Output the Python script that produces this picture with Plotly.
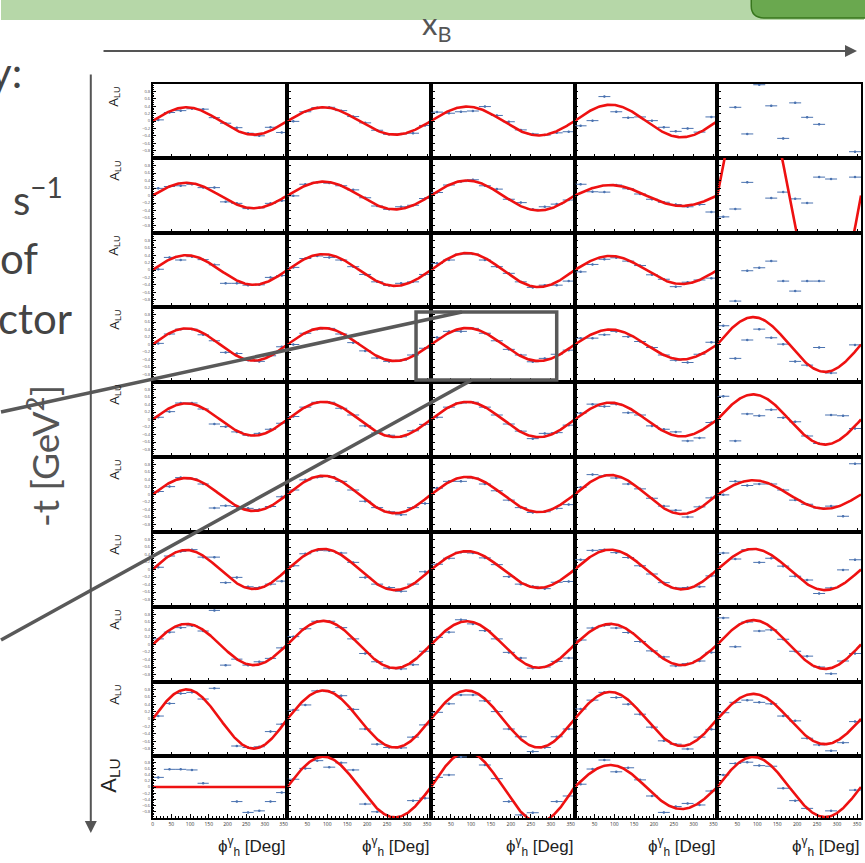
import numpy as np
import plotly.graph_objects as go

W, H = 865, 863

# ---------------- data ----------------
phi_bins = [15, 45, 75, 105, 135, 165, 195, 225, 255, 285, 315, 345]
phi_half_width = 15
N = None

# measured A_LU per -t bin (rows, top->bottom), 5 x_B bins each (columns)
alu_t1 = [[0.03, 0.23, 0.28, 0.33, 0.32, 0.09, -0.06, -0.18, -0.33, -0.40, -0.17, -0.31],
          [-0.01, 0.25, 0.36, 0.37, 0.28, 0.12, -0.05, -0.25, -0.36, -0.35, -0.33, -0.12],
          [0.24, 0.21, 0.25, 0.27, 0.39, 0.15, -0.02, -0.24, -0.35, -0.38, -0.32, -0.29],
          [-0.13, 0.01, 0.66, 0.25, 0.09, 0.11, 0.01, -0.17, -0.28, -0.20, -0.30, 0.11],
          [N, 0.37, -0.35, 0.98, 0.41, -0.47, 0.49, 0.10, -0.09, N, N, -0.83]]
alu_t2 = [[0.19, 0.24, 0.26, 0.30, 0.21, 0.21, -0.17, -0.21, -0.35, -0.33, -0.21, -0.14],
          [-0.01, 0.30, 0.35, 0.33, 0.26, 0.15, -0.06, -0.28, -0.37, -0.30, -0.26, -0.08],
          [0.08, 0.28, 0.37, 0.42, 0.26, 0.17, -0.10, -0.19, -0.37, -0.30, -0.23, -0.12],
          [0.30, 0.10, 0.09, 0.28, 0.18, 0.04, -0.10, -0.18, -0.24, -0.30, -0.24, -0.44],
          [-0.57, -0.36, 0.35, N, -0.07, 0.09, -0.09, -0.20, 0.49, 0.44, N, 0.49]]
alu_t3 = [[0.02, 0.34, 0.27, 0.36, 0.28, 0.14, -0.36, -0.36, -0.41, -0.40, -0.20, -0.15],
          [0.07, 0.31, 0.38, 0.34, 0.27, 0.09, -0.12, -0.32, -0.42, -0.36, -0.32, -0.12],
          [0.18, 0.27, 0.43, 0.43, 0.27, 0.09, -0.09, -0.32, -0.47, -0.41, -0.41, -0.30],
          [-0.05, 0.15, 0.29, 0.33, 0.24, 0.12, -0.13, -0.25, -0.45, -0.33, -0.27, -0.22],
          [N, -0.84, -0.02, 0.06, 0.24, -0.30, -0.57, -0.30, -0.30, N, N, N]]
alu_t4 = [[0.03, 0.28, 0.41, 0.41, 0.26, 0.10, -0.21, -0.24, -0.42, -0.45, -0.30, -0.06],
          [0.00, 0.30, 0.41, 0.43, 0.28, 0.05, -0.17, -0.36, -0.45, -0.42, -0.28, -0.10],
          [0.19, 0.35, 0.35, 0.43, 0.30, 0.10, -0.13, -0.28, -0.46, -0.37, -0.26, -0.15],
          [0.17, 0.17, 0.26, 0.35, 0.21, 0.08, -0.08, -0.28, -0.42, -0.48, -0.26, 0.06],
          [0.50, -0.37, 0.12, 0.41, 0.18, 0.01, -0.45, -0.55, -0.08, -0.76, N, -0.01]]
alu_t5 = [[0.06, 0.21, 0.44, 0.44, 0.28, -0.12, -0.19, -0.33, -0.42, -0.37, -0.26, -0.10],
          [0.08, 0.33, 0.46, 0.46, 0.30, 0.12, -0.17, -0.36, -0.42, -0.46, -0.30, -0.13],
          [0.06, 0.33, 0.44, 0.46, 0.33, 0.12, -0.12, -0.31, -0.51, -0.37, -0.35, -0.15],
          [0.17, 0.41, 0.35, 0.41, 0.18, 0.12, -0.17, -0.26, -0.33, -0.57, -0.49, -0.08],
          [0.62, -0.57, 0.15, 0.10, 0.26, 0.05, -0.06, -0.44, -0.64, 0.12, 0.10, -0.24]]
alu_t6 = [[0.08, 0.21, 0.45, 0.42, 0.28, -0.36, -0.30, -0.32, -0.37, -0.40, -0.32, -0.06],
          [0.12, 0.39, 0.46, 0.48, 0.35, 0.12, -0.18, -0.35, -0.46, -0.54, -0.35, -0.24],
          [0.17, 0.35, 0.35, 0.44, 0.28, 0.10, -0.15, -0.35, -0.48, -0.46, -0.37, -0.27],
          [0.19, 0.53, 0.50, 0.44, 0.28, 0.15, -0.10, -0.31, -0.42, -0.60, -0.33, -0.09],
          [-0.01, 0.35, 0.24, 0.28, 0.28, 0.12, -0.15, -0.26, -0.36, -0.31, -0.58, 0.82]]
alu_t7 = [[0.06, 0.36, 0.48, 0.53, 0.33, 0.33, -0.35, -0.21, -0.46, -0.48, -0.39, -0.31],
          [0.10, 0.42, 0.51, 0.50, 0.44, 0.19, -0.21, -0.39, -0.48, -0.58, -0.39, -0.06],
          [0.14, 0.30, 0.46, 0.44, 0.31, 0.13, -0.19, -0.39, -0.45, -0.51, -0.34, -0.32],
          [0.26, 0.51, 0.53, 0.45, 0.32, 0.10, -0.12, -0.35, -0.49, -0.48, -0.46, -0.17],
          [0.44, 0.28, 0.53, 0.19, 0.30, 0.09, -0.18, -0.28, -0.64, -0.49, -0.01, 0.26]]
alu_t8 = [[0.15, 0.33, 0.45, 0.50, 0.36, 0.91, -0.55, -0.39, -0.55, -0.46, -0.37, -0.09],
          [0.21, 0.42, 0.62, 0.62, 0.45, 0.15, -0.24, -0.46, -0.63, -0.65, -0.54, -0.18],
          [0.19, 0.33, 0.66, 0.55, 0.37, 0.15, -0.21, -0.36, -0.63, -0.60, -0.45, -0.36],
          [0.12, 0.44, 0.51, 0.44, 0.32, 0.08, -0.17, -0.33, -0.57, -0.51, -0.44, -0.21],
          [0.71, -0.06, 0.60, 0.36, 0.39, 0.14, -0.18, -0.31, -0.60, -0.78, -0.44, -0.24]]
alu_t9 = [[0.08, 0.42, 0.69, 0.72, 0.54, 0.83, N, -0.73, -0.77, -0.75, -0.34, -0.14],
          [0.24, 0.38, 0.76, 0.74, 0.63, 0.26, -0.27, -0.68, -0.77, -0.78, -0.49, -0.16],
          [0.18, 0.41, 0.65, 0.65, 0.49, 0.20, -0.27, -0.48, -0.88, -0.77, -0.48, -0.27],
          [0.27, 0.51, 0.72, 0.58, 0.40, 0.13, -0.22, -0.59, -0.68, -0.81, -0.49, -0.28],
          [0.17, 0.45, 0.51, 0.45, 0.41, 0.08, -0.05, -0.52, -0.70, -0.86, -0.64, -0.07]]
alu_t10 = [[0.31, 0.57, 0.57, 0.55, 0.12, N, N, -0.47, -0.82, -0.77, -0.47, -0.18],
           [0.25, 0.60, 0.85, 0.64, 0.78, 0.55, -0.55, -0.80, N, N, -0.44, -0.36],
           [0.31, 0.39, 0.97, N, 0.71, 0.27, -0.47, -0.90, -0.83, N, -0.47, -0.29],
           [0.09, 0.58, 0.87, 0.49, 0.62, 0.23, -0.29, -0.82, -0.63, -0.53, -0.58, -0.13],
           [0.39, 0.76, 0.80, 0.69, 0.67, -0.04, -0.44, -0.69, N, -0.77, N, -0.10]]
alu_rows = [alu_t1, alu_t2, alu_t3, alu_t4, alu_t5, alu_t6, alu_t7, alu_t8, alu_t9, alu_t10]

# fitted sin(phi) amplitudes (None: fit not shown)
fit_amp = [[0.37, 0.37, 0.39, 0.44, None],
           [0.34, 0.37, 0.40, 0.28, 3.3],
           [0.40, 0.43, 0.46, 0.38, None],
           [0.43, 0.44, 0.44, 0.40, 0.73],
           [0.43, 0.47, 0.47, 0.45, 0.67],
           [0.44, 0.50, 0.47, 0.52, 0.38],
           [0.52, 0.55, 0.49, 0.53, 0.55],
           [0.55, 0.63, 0.62, 0.55, 0.65],
           [0.80, 0.77, 0.77, 0.73, 0.68],
           [0.00, 0.98, 1.13, 0.71, 0.97]]

y_tickvals = [-0.8, -0.6, -0.4, -0.2, 0, 0.2, 0.4, 0.6, 0.8]
x_tickvals_first = [0, 50, 100, 150, 200, 250, 300, 350]
x_tickvals_rest = [50, 100, 150, 200, 250, 300, 350]

# ---------------- layout geometry (pixels) ----------------
col_px = [(152, 287), (287, 431), (431, 575), (575, 718), (718, 862)]
row_px = [(84, 158), (158, 233), (233, 307), (307, 382), (382, 457),
          (457, 532), (532, 607), (607, 682), (682, 756), (756, 818)]


def fx(px):
    return px / W


def fy(py):
    return 1 - py / H


fig = go.Figure()
layout = {}
phi_curve = np.linspace(0, 360, 241)

for r in range(10):
    for c in range(5):
        i = r * 5 + c
        sfx = '' if i == 0 else str(i + 1)
        xa, ya = 'x' + sfx, 'y' + sfx
        vals = [np.nan if v is None else v for v in alu_rows[r][c]]
        fig.add_trace(go.Scatter(
            x=phi_bins, y=vals, mode='markers', xaxis=xa, yaxis=ya,
            marker=dict(size=2.5, color='#4a72b0'),
            error_x=dict(type='constant', value=phi_half_width, thickness=1, width=0, color='#4a72b0'),
            error_y=dict(type='constant', value=0.025, thickness=0.8, width=0, color='#4a72b0'),
            showlegend=False, hoverinfo='skip', cliponaxis=True))
        a = fit_amp[r][c]
        if a is not None:
            fig.add_trace(go.Scatter(
                x=phi_curve, y=a * np.sin(np.radians(phi_curve)), mode='lines',
                xaxis=xa, yaxis=ya, line=dict(color='#ee1111', width=2.6),
                showlegend=False, hoverinfo='skip'))
        x0, x1 = col_px[c]
        y0, y1 = row_px[r]
        layout['xaxis' + sfx] = dict(
            domain=[fx(x0), fx(x1)], range=[0, 360], anchor=ya,
            showgrid=False, zeroline=False, showline=True, mirror=True,
            linecolor='black', linewidth=1.6,
            ticks='inside', ticklen=4, tickwidth=1, tickcolor='black',
            tickvals=x_tickvals_first if c == 0 else x_tickvals_rest,
            minor=dict(ticks='inside', ticklen=2, dtick=10, tickcolor='black'),
            showticklabels=(r == 9), tickfont=dict(size=5, color='#333'))
        layout['yaxis' + sfx] = dict(
            domain=[fy(y1), fy(y0)], range=[-1, 1], anchor=xa,
            showgrid=False, zeroline=False, showline=True, mirror=True,
            linecolor='black', linewidth=1.6,
            ticks='inside', ticklen=4, tickwidth=1, tickcolor='black', tickvals=y_tickvals,
            minor=dict(ticks='inside', ticklen=2, dtick=0.05, tickcolor='black'),
            showticklabels=(c == 0), tickfont=dict(size=4, color='#555'))

annotations = []
# A_LU labels
for r in range(10):
    y0, y1 = row_px[r]
    if r < 9:
        annotations.append(dict(x=fx(114), y=fy(y0 + 13), xref='paper', yref='paper',
                                text='A<sub>LU</sub>', textangle=-90, showarrow=False,
                                font=dict(size=13, color='#222', family='Liberation Sans'),
                                xanchor='center', yanchor='middle'))
    else:
        annotations.append(dict(x=fx(109), y=fy(y0 + 20), xref='paper', yref='paper',
                                text='A<sub>LU</sub>', textangle=-90, showarrow=False,
                                font=dict(size=22, color='#222', family='Liberation Sans'),
                                xanchor='center', yanchor='middle'))
# phi axis titles
for c in range(5):
    annotations.append(dict(x=fx(col_px[c][1]), y=fy(846), xref='paper', yref='paper',
                            text='ϕ<sup>γ</sup><sub>h</sub> [Deg]', showarrow=False,
                            font=dict(size=17, color='#222', family='Liberation Sans'),
                            xanchor='right', yanchor='middle'))
# slide texts
slide_font = 'Lato'
annotations += [
    dict(x=fx(437), y=fy(25), text='x<sub>B</sub>', showarrow=False,
         font=dict(size=31, color='#555', family=slide_font), xanchor='center', yanchor='middle'),
    dict(x=fx(42), y=fy(456), text='-t [GeV<sup>2</sup>]', textangle=-90, showarrow=False,
         font=dict(size=37, color='#555', family=slide_font), xanchor='center', yanchor='middle'),
    dict(x=fx(23), y=fy(72), text='y:', showarrow=False,
         font=dict(size=42, color='#444', family=slide_font), xanchor='right', yanchor='middle'),
    dict(x=fx(64), y=fy(197), text='s<sup>−1</sup>', showarrow=False,
         font=dict(size=40, color='#444', family=slide_font), xanchor='right', yanchor='middle'),
    dict(x=fx(39), y=fy(258), text='of', showarrow=False,
         font=dict(size=42, color='#444', family=slide_font), xanchor='right', yanchor='middle'),
    dict(x=fx(73), y=fy(318), text='ctor', showarrow=False,
         font=dict(size=42, color='#444', family=slide_font), xanchor='right', yanchor='middle'),
    # arrows
    dict(x=fx(858), y=fy(51), xref='paper', yref='paper', ax=-755, ay=0, text='',
         showarrow=True, arrowhead=2, arrowsize=1.2, arrowwidth=2, arrowcolor='#555', standoff=0),
    dict(x=fx(90), y=fy(833), xref='paper', yref='paper', ax=0, ay=-760, text='',
         showarrow=True, arrowhead=2, arrowsize=1.2, arrowwidth=2, arrowcolor='#555', standoff=0),
]
for a in annotations:
    a.setdefault('xref', 'paper')
    a.setdefault('yref', 'paper')

shapes = [
    # green title bar
    dict(type='rect', xref='paper', yref='paper', x0=0, x1=1, y0=fy(20), y1=1.02,
         fillcolor='#b6d7a8', line=dict(width=0), layer='below'),
    dict(type='path', xref='paper', yref='paper',
         path=f'M {fx(752)},{fy(-5)} L {fx(752)},{fy(6)} Q {fx(752)},{fy(18)} {fx(766)},{fy(18)} '
              f'L {fx(880)},{fy(18)} L {fx(880)},{fy(-5)} Z',
         fillcolor='#6aa84f', line=dict(color='#38761d', width=1.5)),
    # highlight box and connector lines
    dict(type='rect', xref='paper', yref='paper', x0=fx(416), x1=fx(557), y0=fy(380), y1=fy(312),
         line=dict(color='#595959', width=3.5)),
    dict(type='line', xref='paper', yref='paper', x0=fx(462), y0=fy(312), x1=fx(0), y1=fy(412),
         line=dict(color='#595959', width=3.5)),
    dict(type='line', xref='paper', yref='paper', x0=fx(472), y0=fy(380), x1=fx(0), y1=fy(640),
         line=dict(color='#595959', width=3.5)),
]

fig.update_layout(**layout)
fig.update_layout(width=W, height=H, margin=dict(l=0, r=0, t=0, b=0),
                  paper_bgcolor='white', plot_bgcolor='white',
                  annotations=annotations, shapes=shapes, showlegend=False)
fig.write_html('out.html', config={'displayModeBar': False},
               post_script="document.body.style.margin='0';document.body.style.overflow='hidden';")
